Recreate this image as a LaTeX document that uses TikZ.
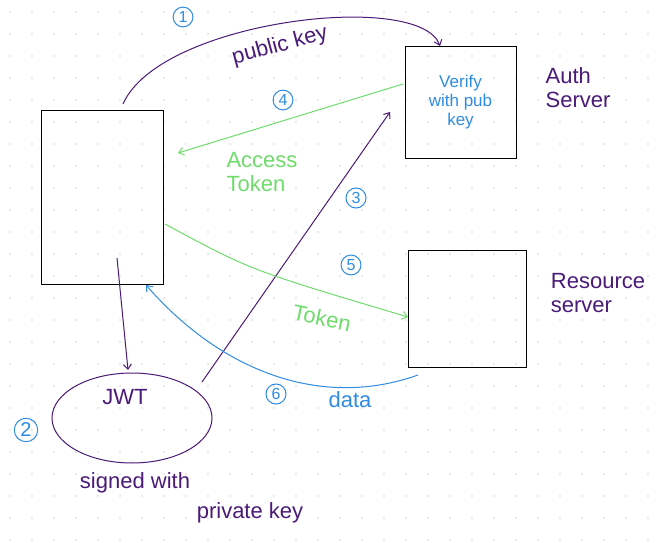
\documentclass[tikz,border=0pt]{standalone}
\usepackage{fontspec}
\setmainfont{Liberation Sans}
\usetikzlibrary{arrows.meta,shapes.geometric}
\definecolor{pur}{HTML}{4A1A78}
\definecolor{grn}{HTML}{6EDC6A}
\definecolor{blu}{HTML}{2F8CE0}
\tikzset{
 box/.style={draw=black,line width=1pt,inner sep=0pt},
 con/.style={line width=1pt,-{Straight Barb[length=5pt,width=8pt]}},
 num/.style={circle,draw=blu,text=blu,line width=1pt,inner sep=2pt,font=\fontsize{16}{18}\selectfont},
 lab/.style={font=\fontsize{22}{24}\selectfont},
}
\begin{document}
\begin{tikzpicture}[x=1pt,y=-1pt]
\useasboundingbox (0,0) rectangle (662,543);
\foreach \i in {0,...,30}{\foreach \j in {0,...,24}{\fill[gray!35] (10+\i*22,12+\j*22) circle (0.8);}}
\node[box,minimum width=122pt,minimum height=173pt] (client) at (102,197.5) {};
\node[box,minimum width=111pt,minimum height=111pt,align=center,text=blu,font=\fontsize{17}{19}\selectfont] (auth) at (460.5,102.5) {Verify\\with pub\\key};
\node[box,minimum width=118pt,minimum height=117pt] (res) at (467,308.5) {};
\node[draw=pur,line width=1pt,ellipse,minimum width=160pt,minimum height=90pt] (jwt) at (132,418) {};
\node[text=pur,lab] (jwtl) at (125,397) {JWT};
\node[text=pur,lab,align=left] (authl) at (578,88) {Auth\\Server};
\node[text=pur,lab,align=left] (resl) at (598,293) {Resource\\server};
\node[text=pur,lab] (sig1) at (135,483) {signed with};
\node[text=pur,lab] (sig2) at (250,513) {private key};
\coordinate (c1) at (123,104); \coordinate (a1) at (440,46);
\draw[con,pur] (c1) .. controls (160,20) and (420,-10) .. (a1);
\node[text=pur,lab,rotate=15] (l1) at (280,46) {public key};
\node[num] (n1) at (183,17) {1};
\coordinate (s4) at (403,84); \coordinate (e4) at (178,153);
\draw[con,grn] (s4) -- (e4);
\node[text=grn,lab,align=left] (l4) at (262,172) {Access\\Token};
\node[num] (n4) at (283,100) {4};
\coordinate (s3) at (202,382); \coordinate (e3) at (390,112);
\draw[con,pur] (s3) -- (e3);
\node[num] (n3) at (356,198) {3};
\coordinate (s5) at (165,224); \coordinate (e5) at (408,317);
\draw[con,grn] (s5) .. controls (250,270) .. (e5);
\node[text=grn,lab,rotate=-12] (l5) at (322,318) {Token};
\node[num] (n5) at (351,265) {5};
\coordinate (s6) at (418,375); \coordinate (e6) at (146,285);
\draw[con,blu] (s6) .. controls (320,410) and (220,370) .. (e6);
\node[text=blu,lab] (l6) at (350,400) {data};
\node[num] (n6) at (276,394) {6};
\coordinate (s2) at (117,258); \coordinate (e2) at (128,370);
\draw[con,pur] (s2) -- (e2);
\node[num,font=\fontsize{20}{22}\selectfont] (n2) at (26,430) {2};
\end{tikzpicture}
\end{document}
